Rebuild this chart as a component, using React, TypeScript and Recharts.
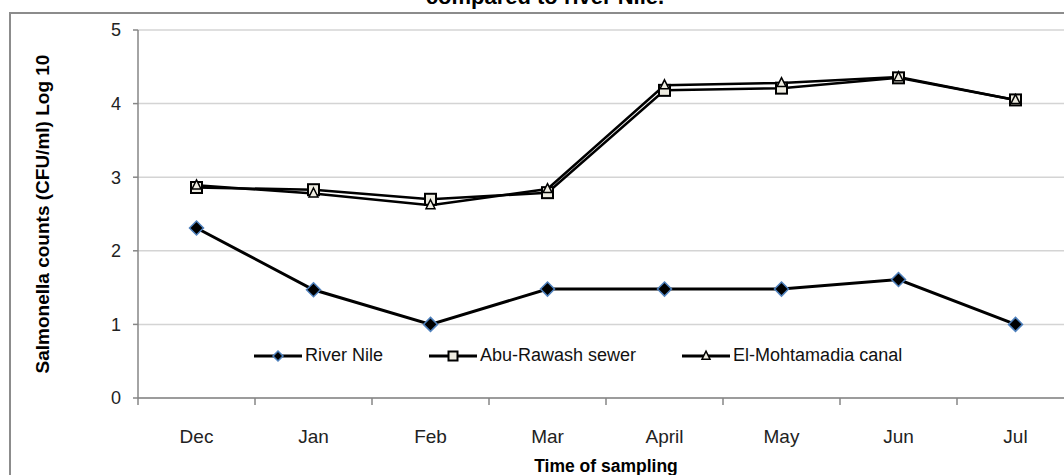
import React from "react";
import { LineChart, Line, XAxis, YAxis, CartesianGrid, Legend } from "recharts";

const months = ["Dec", "Jan", "Feb", "Mar", "April", "May", "Jun", "Jul"];
const riverNile = [2.31, 1.47, 1.0, 1.48, 1.48, 1.48, 1.61, 1.0];
const abuRawash = [2.86, 2.83, 2.7, 2.79, 4.18, 4.21, 4.35, 4.05];
const elMohtamadia = [2.89, 2.78, 2.62, 2.84, 4.25, 4.28, 4.36, 4.05];
const yTicks = [0, 1, 2, 3, 4, 5];
const seriesOrder = ["nile", "abu", "canal"];

const data = months.map((month, i) => ({
  month,
  nile: riverNile[i],
  abu: abuRawash[i],
  canal: elMohtamadia[i],
}));

const FONT = "'Liberation Sans', Arial, sans-serif";
const AXIS = "#868686";
const GRID = "#d4d4d4";
const FILL = "#eeece1";

const Diamond = ({ cx, cy, r = 7 }: any) => (
  <polygon
    points={`${cx},${cy - r} ${cx + r},${cy} ${cx},${cy + r} ${cx - r},${cy}`}
    fill="#000"
    stroke="#4f81bd"
    strokeWidth={1.5}
  />
);

const Square = ({ cx, cy, s = 11 }: any) => (
  <rect x={cx - s / 2} y={cy - s / 2} width={s} height={s} fill={FILL} stroke="#000" strokeWidth={2} />
);

const Triangle = ({ cx, cy, s = 9 }: any) => (
  <polygon
    points={`${cx},${cy - s * 0.6} ${cx + s / 2},${cy + s * 0.4} ${cx - s / 2},${cy + s * 0.4}`}
    fill={FILL}
    stroke="#000"
    strokeWidth={1.5}
  />
);

const markers: Record<string, any> = { nile: Diamond, abu: Square, canal: Triangle };
const legendSizes: Record<string, any> = { nile: { r: 5 }, abu: { s: 9 }, canal: { s: 8 } };

const LegendContent = ({ payload }: any) => {
  const items = [...(payload || [])].sort(
    (a: any, b: any) => seriesOrder.indexOf(a.dataKey) - seriesOrder.indexOf(b.dataKey)
  );
  return (
    <div style={{ display: "flex", alignItems: "center", fontFamily: FONT, fontSize: 18, color: "#111" }}>
      {items.map((entry: any) => {
        const M = markers[entry.dataKey];
        return (
          <div key={entry.dataKey} style={{ display: "flex", alignItems: "center", marginRight: 46 }}>
            <svg width={48} height={16}>
              <line x1={0} x2={48} y1={8} y2={8} stroke="#000" strokeWidth={3} />
              <M cx={24} cy={8} {...legendSizes[entry.dataKey]} />
            </svg>
            <span style={{ marginLeft: 3, whiteSpace: "nowrap" }}>{entry.value}</span>
          </div>
        );
      })}
    </div>
  );
};

const MonthTick = (props: any) => {
  const { x, y, payload, index, visibleTicksCount } = props;
  const half = payload.offset || 58.5;
  return (
    <g>
      <line x1={x - half} x2={x - half} y1={y} y2={y + 7} stroke={AXIS} strokeWidth={1.5} />
      {index === visibleTicksCount - 1 && (
        <line x1={x + half} x2={x + half} y1={y} y2={y + 7} stroke={AXIS} strokeWidth={1.5} />
      )}
      <text x={x} y={y + 45} textAnchor="middle" fontSize={19} fontFamily={FONT} fill="#222">
        {payload.value}
      </text>
    </g>
  );
};

const YTitle = (props: any) => {
  const vb = props.viewBox;
  const cx = vb.x + 49;
  const cy = vb.y + vb.height / 2;
  return (
    <text
      x={cx}
      y={cy}
      transform={`rotate(-90 ${cx} ${cy})`}
      textAnchor="middle"
      fontSize={19}
      fontWeight="bold"
      fontFamily={FONT}
      fill="#000"
    >
      Salmonella counts (CFU/ml) Log 10
    </text>
  );
};

const XTitle = (props: any) => {
  const vb = props.viewBox;
  return (
    <text
      x={vb.x + vb.width / 2}
      y={vb.y + 74}
      textAnchor="middle"
      fontSize={17.5}
      fontWeight="bold"
      fontFamily={FONT}
      fill="#000"
    >
      Time of sampling
    </text>
  );
};

export default function App() {
  return (
    <div
      style={{
        position: "fixed",
        left: 0,
        top: 0,
        width: 1064,
        height: 475,
        overflow: "hidden",
        background: "#fff",
        fontFamily: FONT,
      }}
    >
      <div
        style={{
          position: "absolute",
          left: 0,
          width: 1090,
          top: -14,
          textAlign: "center",
          fontWeight: "bold",
          fontSize: 22,
          lineHeight: "22px",
          color: "#000",
        }}
      >
        compared to river Nile.
      </div>
      <div
        style={{
          position: "absolute",
          left: 9,
          top: 12,
          width: 1200,
          height: 600,
          border: "2px solid #8c8c8c",
        }}
      />
      <div style={{ position: "absolute", left: 0, top: 0 }}>
        <LineChart width={1100} height={475} data={data} margin={{ top: 30, right: 26, left: 0, bottom: 0 }}>
          <CartesianGrid vertical={false} stroke={GRID} strokeWidth={1.5} />
          <XAxis
            dataKey="month"
            scale="band"
            height={77}
            axisLine={{ stroke: AXIS, strokeWidth: 1.5 }}
            tickLine={false}
            tickSize={0}
            tickMargin={0}
            tick={<MonthTick />}
            interval={0}
            label={XTitle}
          />
          <YAxis
            width={138}
            domain={[0, 5]}
            ticks={yTicks}
            axisLine={{ stroke: AXIS, strokeWidth: 1.5 }}
            tickLine={{ stroke: AXIS, strokeWidth: 1.5 }}
            tickSize={5}
            tickMargin={12}
            tick={{ fontSize: 18, fill: "#222", fontFamily: FONT }}
            label={YTitle}
          />
          <Legend
            layout="horizontal"
            verticalAlign="middle"
            align="center"
            wrapperStyle={{ top: 345, left: 254, width: 760 }}
            content={<LegendContent />}
          />
          <Line
            dataKey="nile"
            name="River Nile"
            stroke="#000"
            strokeWidth={3}
            dot={(p: any) => <Diamond key={`nile-${p.index}`} cx={p.cx} cy={p.cy} />}
            isAnimationActive={false}
          />
          <Line
            dataKey="abu"
            name="Abu-Rawash sewer"
            stroke="#000"
            strokeWidth={2.5}
            dot={(p: any) => <Square key={`abu-${p.index}`} cx={p.cx} cy={p.cy} />}
            isAnimationActive={false}
          />
          <Line
            dataKey="canal"
            name="El-Mohtamadia canal"
            stroke="#000"
            strokeWidth={2.5}
            dot={(p: any) => <Triangle key={`canal-${p.index}`} cx={p.cx} cy={p.cy} />}
            isAnimationActive={false}
          />
        </LineChart>
      </div>
    </div>
  );
}
